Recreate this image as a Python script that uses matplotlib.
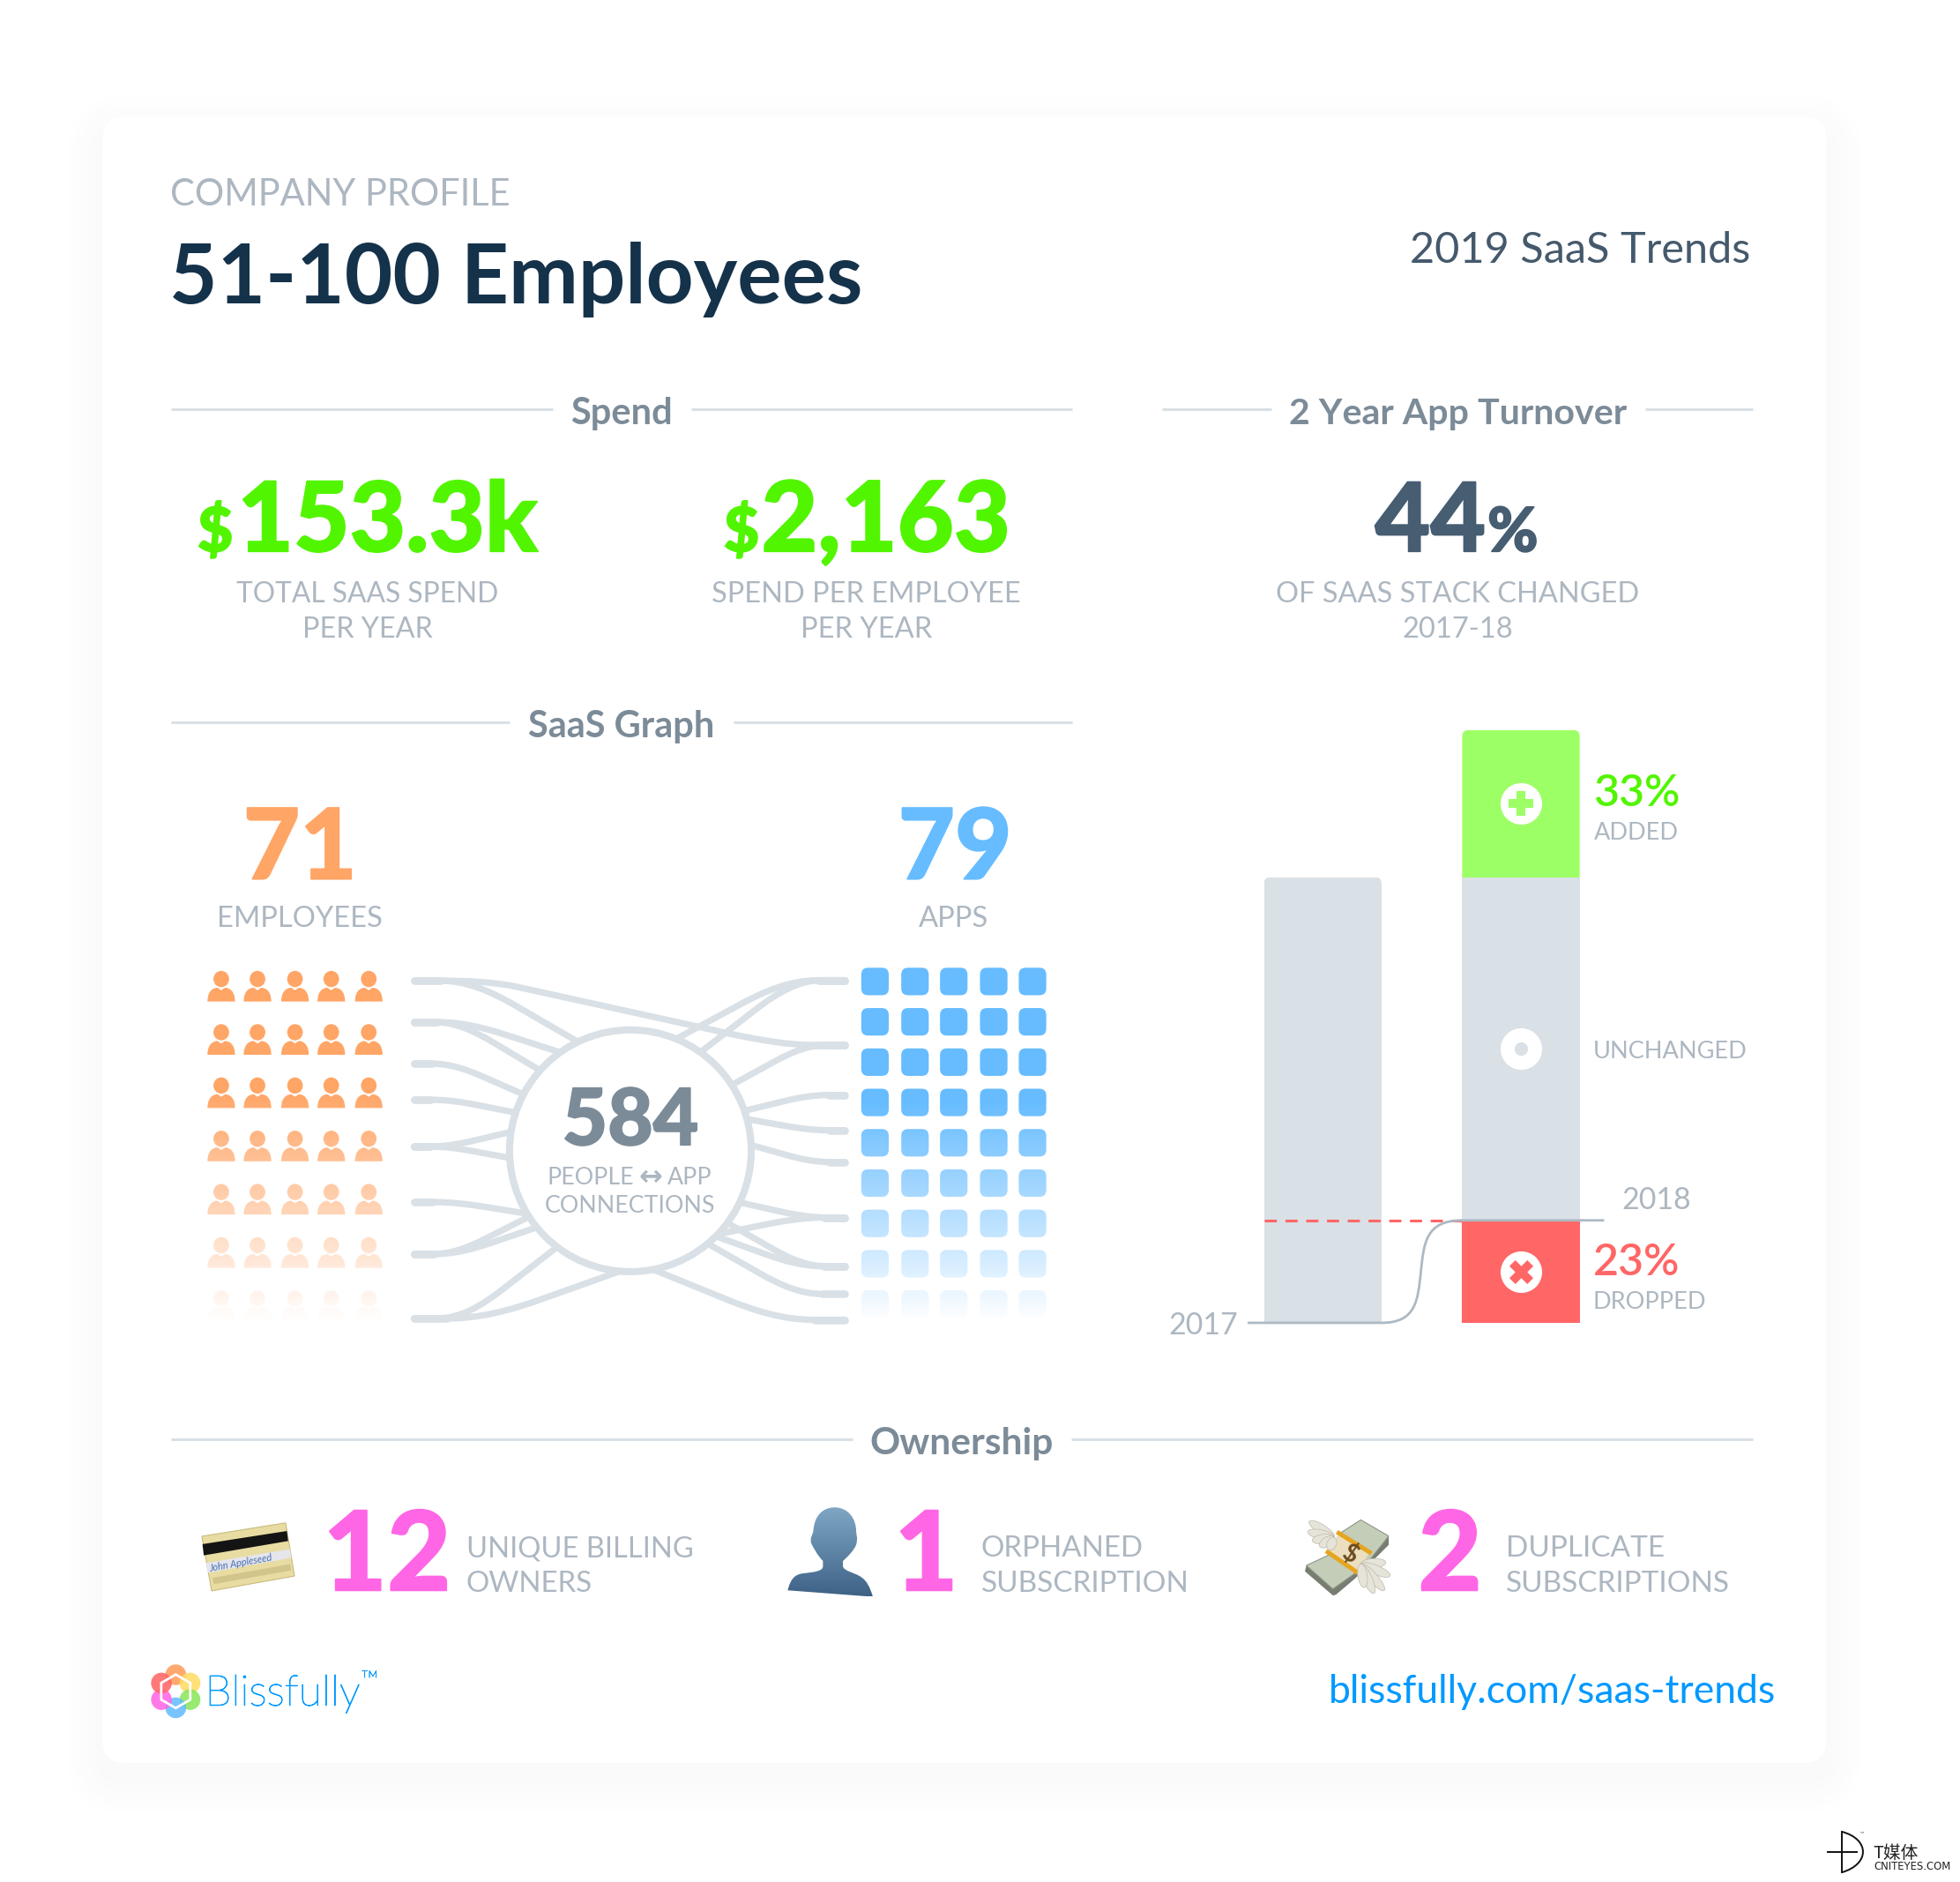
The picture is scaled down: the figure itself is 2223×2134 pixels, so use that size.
import numpy as np
import matplotlib
matplotlib.use('Agg')
import matplotlib.pyplot as plt
import matplotlib.patheffects as pe
from matplotlib.patches import FancyBboxPatch, Ellipse, Polygon, PathPatch, Circle
from matplotlib.path import Path

plt.rcParams['font.family'] = ['Lato', 'DejaVu Sans']

# values
employees = 71
apps = 79
connections = 584
total_spend = '153.3k'
spend_per_employee = '2,163'
stack_changed = 44
added, unchanged, dropped = 33, 77, 23
owners_billing, orphaned, duplicates = 12, 1, 2

people_rows = 7
app_rows = 9
grid_cols = 5

left_ends = [784.4, 817.5, 850.7, 879.6, 917, 961.4, 1003, 1054.5]
right_ends = [784, 835.8, 875.8, 904, 929.4, 973.8, 1012.8, 1035, 1055.6]
# (end index, angle on the hub circle in degrees)
left_links = [(0, 115.7), (1, 125.5), (1, 138.3), (2, 152.2), (3, 161.6), (4, 171), (4, 183.4),
              (5, 211.3), (6, 213), (6, 219.3), (7, 232.7), (7, 265)]
right_links = [(0, 54.6), (0, 67.7), (1, 33), (2, 19.3), (3, 15.2), (4, 2.7), (5, 334.7), (5, 316.4),
               (6, 323.4), (6, 315), (7, 309.8), (8, 280.9)]

GREY = '#adb7c1'
HEAD = '#7c8b98'
RULE = '#d9e0e6'
GREEN = '#52f500'
ORANGE = '#ffa566'
BLUE = '#66bcff'
PINK = '#ff66e6'
RED = '#ff6666'
LINK = '#0099ff'

W, H = 2223, 2134
S = W / 1568.0
fig = plt.figure(figsize=(W / 100, H / 100), dpi=100, facecolor='white')
ax = fig.add_axes([0, 0, 1, 1])
ax.set_xlim(0, W / S)
ax.set_ylim(H / S, 0)
ax.axis('off')


def T(x, y, s, size, color=GREY, weight='normal', ha='left', **kw):
    t = ax.text(x, y, s, fontsize=size, color=color, fontweight=weight, ha=ha, va='baseline', **kw)
    if weight == 'black':
        t.set_path_effects([pe.withStroke(linewidth=1.3, foreground=color)])
    return t


def rule(x0, x1, y):
    ax.plot([x0, x1], [y, y], color=RULE, lw=2.2, solid_capstyle='butt', zorder=2)


# card with soft shadow
for i in range(12):
    shade = 255 - int(round((i + 1) * 0.42))
    grow = 30 - i * 2.5
    ax.add_patch(FancyBboxPatch((82 - grow, 93 - grow + 12), 1379 + 2 * grow, 1317 + 2 * grow,
                                boxstyle='round,pad=0,rounding_size=%f' % (18 + grow), fc=(shade / 255,) * 3,
                                ec='none', zorder=0))
ax.add_patch(FancyBboxPatch((82, 93), 1379, 1317, boxstyle='round,pad=0,rounding_size=18', fc='white', ec='none',
                            zorder=1))

# heading
T(136, 164, 'COMPANY PROFILE', 30)
T(135.5, 242.5, '51-100 Employees', 67.8, '#15324b', 'bold')
T(1400.5, 210, '2019 SaaS Trends', 35, '#45596c', ha='right')

# spend row
rule(137, 442, 327)
rule(553, 858, 327)
T(497, 339, 'Spend', 30, HEAD, 'bold', ha='center')
rule(930, 1017, 327)
rule(1316, 1402, 327)
T(1166, 339, '2 Year App Turnover', 29.6, HEAD, 'bold', ha='center')

T(158, 441, '$', 50, GREEN, 'black')
T(190, 441, total_spend, 79, GREEN, 'black')
T(294, 482, 'TOTAL SAAS SPEND', 22.9, ha='center')
T(294, 510, 'PER YEAR', 23.3, ha='center')
T(579, 441, '$', 50, GREEN, 'black')
T(609, 441, spend_per_employee, 79.6, GREEN, 'black')
T(693, 482, 'SPEND PER EMPLOYEE', 23.4, ha='center')
T(693, 510, 'PER YEAR', 23.5, ha='center')
T(1100, 441, str(stack_changed), 78, '#465d72', 'black')
T(1190, 441, '%', 50, '#465d72', 'black')
T(1166, 482, 'OF SAAS STACK CHANGED', 23.4, ha='center')
T(1166, 510, '2017-18', 23.5, ha='center')

# saas graph
rule(137, 408, 578)
rule(587, 858, 578)
T(497, 590, 'SaaS Graph', 30, HEAD, 'bold', ha='center')
T(240, 703, str(employees), 80, ORANGE, 'black', ha='center')
T(240, 741, 'EMPLOYEES', 23.6, ha='center')
T(764, 703, str(apps), 80, BLUE, 'black', ha='center')
T(763, 741, 'APPS', 23.6, ha='center')

people_x = [177, 206, 236, 265, 295]
people_y0, people_step = 783, 42.6
for r in range(people_rows):
    for c in range(grid_cols):
        cx, cy = people_x[c], people_y0 + r * people_step
        ax.add_patch(Ellipse((cx, cy), 12.5, 13, fc=ORANGE, ec='none', zorder=3))
        body = Path([(cx - 11, cy + 18), (cx - 11, cy + 9), (cx - 6, cy + 7), (cx - 3, cy + 7), (cx, cy + 9),
                     (cx + 3, cy + 7), (cx + 6, cy + 7), (cx + 11, cy + 9), (cx + 11, cy + 18), (cx - 11, cy + 18)],
                    [Path.MOVETO, Path.CURVE4, Path.CURVE4, Path.CURVE4, Path.LINETO, Path.LINETO, Path.CURVE4,
                     Path.CURVE4, Path.CURVE4, Path.CLOSEPOLY])
        ax.add_patch(PathPatch(body, fc=ORANGE, ec='none', zorder=3))

apps_x = [700, 732, 763, 795, 826]
apps_y0, apps_step = 785, 32.25
for r in range(app_rows):
    for c in range(grid_cols):
        cx, cy = apps_x[c], apps_y0 + r * apps_step
        ax.add_patch(FancyBboxPatch((cx - 11, cy - 11), 22, 22, boxstyle='round,pad=0,rounding_size=5.5', fc=BLUE,
                                    ec='none', zorder=3))


def fade(x0, x1, y0, y1, yend):
    # white overlay going opaque at y1, stays opaque until yend
    y = np.linspace(y0, yend, 256)
    img = np.ones((256, 1, 4))
    img[:, 0, 3] = np.clip((y - y0) / (y1 - y0), 0, 1)
    ax.imshow(img, extent=(x0, x1, yend, y0), aspect='auto', zorder=4, interpolation='bilinear')


fade(160, 312, 872, 1056, 1064)
fade(684, 842, 880, 1056, 1064)
ax.set_xlim(0, W / S)
ax.set_ylim(H / S, 0)

hub_x, hub_y, hub_r = 504.3, 920.4, 96.7
lx, rx = 331.5, 676


def link(x0, y0, angle):
    a = np.radians(angle)
    tx, ty = hub_x + hub_r * np.cos(a), hub_y - hub_r * np.sin(a)
    dx, dy = tx - x0, ty - y0
    p = Path([(x0, y0), (x0 + 0.16 * dx, y0), (x0 + 0.32 * dx, y0), (x0 + 0.468 * dx, y0 + 0.174 * dy),
              (x0 + 0.62 * dx, y0 + 0.41 * dy), (tx, ty)],
             [Path.MOVETO, Path.LINETO, Path.CURVE4, Path.CURVE4, Path.CURVE4, Path.LINETO])
    ax.add_patch(PathPatch(p, fc='none', ec=RULE, lw=5.2, capstyle='round', zorder=2))
    ax.plot([x0, x0 + 0.16 * dx], [y0, y0], color=RULE, lw=6.2, solid_capstyle='round', zorder=2)


for i, ang in left_links:
    link(lx, left_ends[i], ang)
for i, ang in right_links:
    link(rx, right_ends[i], ang)
across = Path([(lx, left_ends[0]), (353, left_ends[0]), (375, left_ends[0]), (395, 785.5), (411.4, 788.8),
               (587.8, 827.6), (607, 831.6), (630, right_ends[1]), (651, right_ends[1]), (rx, right_ends[1])],
              [Path.MOVETO, Path.LINETO, Path.CURVE4, Path.CURVE4, Path.CURVE4, Path.LINETO, Path.CURVE4, Path.CURVE4,
               Path.CURVE4, Path.LINETO])
ax.add_patch(PathPatch(across, fc='none', ec=RULE, lw=5.2, capstyle='round', zorder=2))
ax.plot([rx - 25, rx], [right_ends[1]] * 2, color=RULE, lw=6.2, solid_capstyle='round', zorder=2)
ax.add_patch(Circle((hub_x, hub_y), hub_r, fc='white', ec=RULE, lw=5.8, zorder=3))
T(504.3, 915.7, str(connections), 64, HEAD, 'black', ha='center', zorder=5)
T(507.4, 947.5, 'PEOPLE', 19.3, ha='right', zorder=5)
ax.text(520.8, 948, '\u2194', fontsize=23, color=GREY, family='DejaVu Sans', fontweight='bold', ha='center',
        va='baseline', zorder=5)
T(533.7, 947.5, 'APP', 19.3, zorder=5)
T(504.3, 969.8, 'CONNECTIONS', 19.3, ha='center', zorder=5)

# turnover bars, axes spans x 979-1296 and y 584-1058 of the layout
bax = fig.add_axes([979 * S / W, 1 - 1058 * S / H, 317 * S / W, 474 * S / H])
bax.set_xlim(-0.5, 1.5)
bax.set_ylim(0, added + unchanged + dropped)
bax.axis('off')
bar_w = 0.593
b17 = bax.bar([0], [dropped + unchanged], width=bar_w, color=RULE, zorder=2)[0]
b_drop = bax.bar([1], [dropped], width=bar_w, color=RED, zorder=2)[0]
b_same = bax.bar([1], [unchanged], bottom=[dropped], width=bar_w, color=RULE, zorder=2)[0]
b_add = bax.bar([1], [added], bottom=[dropped + unchanged], width=bar_w, color='#9dff66', zorder=2)[0]


def round_top(bar, pad=20):
    # clip the bar by a rounded box so only its top corners round off
    d0 = ax.transData.inverted().transform(bax.transData.transform((bar.get_x(), bar.get_y())))
    d1 = ax.transData.inverted().transform(bax.transData.transform((bar.get_x() + bar.get_width(),
                                                                    bar.get_y() + bar.get_height())))
    clip = FancyBboxPatch((d0[0], d1[1]), d1[0] - d0[0], d0[1] - d1[1] + pad, boxstyle='round,pad=0,rounding_size=5',
                          transform=ax.transData, fc='none', ec='none')
    bar.set_clip_path(clip)


round_top(b17)
round_top(b_add)

bax.plot([-0.297, 0.703], [dropped, dropped], color=RED, lw=2.2, dashes=(4.5, 3.2), zorder=3)
step = Path([(-0.38, 0), (0.297, 0), (0.47, 0), (0.48, 5), (0.495, dropped / 2), (0.51, 18), (0.52, dropped),
             (0.703, dropped), (1.42, dropped)],
            [Path.MOVETO, Path.LINETO, Path.CURVE4, Path.CURVE4, Path.CURVE4, Path.CURVE4, Path.CURVE4, Path.CURVE4,
             Path.LINETO])
bax.add_patch(PathPatch(step, fc='none', ec='#adb9c3', lw=2, clip_on=False, zorder=4))

seg_mid = [dropped + unchanged + added / 2, dropped + unchanged / 2, dropped / 2]
bax.scatter([1, 1, 1], seg_mid, s=1150, c='white', marker='o', linewidths=0, zorder=5)
bax.scatter([1], [seg_mid[0]], s=420, c='#9dff66', marker='P', linewidths=0, zorder=6)
bax.scatter([1], [seg_mid[1]], s=120, c=RULE, marker='o', linewidths=0, zorder=6)
bax.scatter([1], [seg_mid[2]], s=380, c=RED, marker='X', linewidths=0, zorder=6)

T(1274.5, 645, '%d%%' % added, 36, GREEN, 'semibold', zorder=6)
T(1275, 671.5, 'ADDED', 19.5)
T(1274.5, 846.5, 'UNCHANGED', 19.5)
T(1353, 967, '2018', 24.5, ha='right')
T(1274.5, 1020, '%d%%' % dropped, 36, RED, 'semibold')
T(1274.5, 1047, 'DROPPED', 19.5)
T(990.5, 1067, '2017', 24.5, ha='right')

# ownership
rule(137, 682, 1151)
rule(857, 1402, 1151)
T(769.5, 1163, 'Ownership', 30.5, HEAD, 'bold', ha='center')
T(258.5, 1272, str(owners_billing), 90, PINK, 'black')
T(373, 1245, 'UNIQUE BILLING', 23.6)
T(373, 1273, 'OWNERS', 23.8)
T(741, 1272, str(orphaned), 90, PINK, 'black', ha='center')
T(785, 1245, 'ORPHANED', 23.9)
T(785, 1273, 'SUBSCRIPTION', 24)
T(1160, 1272, str(duplicates), 90, PINK, 'black', ha='center')
T(1205, 1245, 'DUPLICATE', 24)
T(1205, 1273, 'SUBSCRIPTIONS', 24)

# credit card
ax.add_patch(Polygon([(161.5, 1228.7), (228.5, 1218), (235.6, 1260.5), (169.3, 1272.4)], fc='#e9dca2', ec='#c9bb80',
                     lw=0.8, zorder=3))
ax.add_patch(Polygon([(162, 1235), (229.5, 1224.5), (230.5, 1232.5), (163, 1244)], fc='#141414', ec='none', zorder=4))
ax.add_patch(Polygon([(165, 1250), (232, 1239), (233, 1246), (166, 1258)], fc='#e4e6ec', ec='none', zorder=4))
T(168, 1257, 'John Appleseed', 8, '#4a6fb5', style='italic', rotation=10, zorder=5, rotation_mode='anchor')
ax.add_patch(Polygon([(170, 1262), (232, 1251), (233, 1256), (171, 1267)], fc='#d2c58c', ec='none', zorder=4))

# person, drawn in zoomed crop units then mapped to the layout
C4, L2 = Path.CURVE4, Path.LINETO
person_z = [(70, 340), (80, 300), (95, 285), (125, 282), (160, 278), (190, 275), (190, 258), (190, 240), (170, 220),
            (158, 195), (150, 180), (145, 160), (155, 150), (157, 140), (160, 85), (190, 58), (230, 58), (275, 58),
            (303, 95), (303, 140), (303, 150), (310, 160), (303, 185), (295, 205), (275, 225), (258, 240), (258, 258),
            (260, 275), (300, 280), (320, 295), (340, 308), (350, 330), (360, 362), (70, 340)]
person_c = [Path.MOVETO, C4, C4, C4, C4, C4, C4, L2, C4, C4, C4, C4, C4, C4, C4, C4, C4, C4, C4, C4, C4, C4, C4, C4, C4,
            C4, L2, C4, C4, C4, C4, C4, C4, L2]
person = Path([(613.7 + x * 0.2351, 1192 + y * 0.2351) for x, y in person_z], person_c)
pclip = PathPatch(person, fc='none', ec='none', transform=ax.transData)
ax.add_patch(pclip)
top_col = np.array([0x80, 0xa8, 0xc6]) / 255.0
low_col = np.array([0x3e, 0x62, 0x86]) / 255.0
shade_img = (top_col + np.linspace(0, 1, 128).reshape(-1, 1, 1) * (low_col - top_col))
pim = ax.imshow(shade_img, extent=(626, 702, 1277, 1205), aspect='auto', zorder=3)
pim.set_clip_path(pclip)
ax.set_xlim(0, W / S)
ax.set_ylim(H / S, 0)


# flying money, also in crop units
def mz(p):
    return [(1036.9 + x * 0.2351, 1206.2 + y * 0.2351) for x, y in p]


ax.add_patch(Polygon(mz([(35, 195), (30, 215), (125, 297), (135, 295), (200, 240), (250, 190), (315, 125), (315, 95)]),
                     fc='#787d72', ec='none', zorder=3))
ax.add_patch(Polygon(mz([(35, 195), (110, 160), (150, 85), (220, 40), (315, 95), (255, 170), (210, 215), (125, 275)]),
                     fc='#c4cdb8', ec='#8f9688', lw=0.8, zorder=4))
ax.add_patch(Polygon(mz([(145, 85), (250, 150), (210, 220), (108, 150)]), fc='#ecdfc0', ec='none', zorder=5))
for seg in [[(145, 85), (250, 150)], [(108, 150), (210, 220)]]:
    pts = mz(seg)
    ax.plot([pts[0][0], pts[1][0]], [pts[0][1], pts[1][1]], color='#e6a51e', lw=3.6, zorder=6)
for root, tips in [((130, 100), [(45, 45), (40, 80), (55, 110), (80, 130), (112, 142)]),
                   ((220, 190), [(305, 185), (320, 230), (300, 280), (265, 290), (232, 270)])]:
    for tip in tips:
        (x0, y0), (x1, y1) = mz([root, tip])
        ang = np.degrees(np.arctan2(y1 - y0, x1 - x0))
        ax.add_patch(Ellipse(((x0 + x1) / 2, (y0 + y1) / 2), np.hypot(x1 - x0, y1 - y0), 7.5, angle=ang, fc='#e6e3d8',
                             ec='#bdb9ad', lw=0.5, zorder=7))
T(1077, 1248, '$', 20, '#6b4a1c', 'bold', ha='center', rotation=-30, rotation_mode='anchor', zorder=8)

# footer
logo_x, logo_y = 140.6, 1352.7
petals = ['#ff9d5c', '#ffdc66', '#8ce65c', '#66bcff', '#ff66e6', '#ff6666']
for k, col in enumerate(petals):
    a = np.radians(90 - 60 * k)
    ax.add_patch(Circle((logo_x + 13.2 * np.cos(a), logo_y - 13.2 * np.sin(a)), 8.3, fc=col, ec='none', alpha=0.88,
                        zorder=3))
hexa = [(logo_x + 13.4 * np.cos(np.radians(60 * k + 30)), logo_y + 13.4 * np.sin(np.radians(60 * k + 30)))
        for k in range(6)]
ax.add_patch(Polygon(hexa, fc='none', ec='white', lw=2, zorder=4))
b = T(164, 1364, 'Blissfully', 34.7, LINK, 'light')
b.set_path_effects([pe.withStroke(linewidth=0.7, foreground=LINK)])
tm = T(288.5, 1350, '\u2122', 20, LINK, 'light')
tm.set_path_effects([pe.withStroke(linewidth=0.4, foreground=LINK)])
T(1421, 1362, 'blissfully.com/saas-trends', 32, LINK, ha='right')

# watermark
ax.plot([1473.5, 1473.5], [1465, 1497.5], color='#111111', lw=1.4, zorder=3)
ax.plot([1462, 1485.6], [1481, 1481], color='#111111', lw=1.4, zorder=3)
mark = Path([(1473.5, 1465), (1496, 1471), (1496, 1491), (1473.5, 1497.5)], [Path.MOVETO, Path.CURVE4, Path.CURVE4, Path.CURVE4])
ax.add_patch(PathPatch(mark, fc='none', ec='#111111', lw=1.4, zorder=3))
ax.text(1488, 1467, '\u2122', fontsize=4, color='#555555', va='baseline')
ax.text(1498.5, 1486, 'T\u5a92\u4f53', fontsize=14.2, color='#222222', family=['Noto Sans CJK SC', 'DejaVu Sans'],
        va='baseline')
ax.text(1499, 1495, 'CNITEYES.COM', fontsize=8.4, color='#222222', family='DejaVu Sans', va='baseline')

fig.savefig('out.png', dpi=100, facecolor='white')
